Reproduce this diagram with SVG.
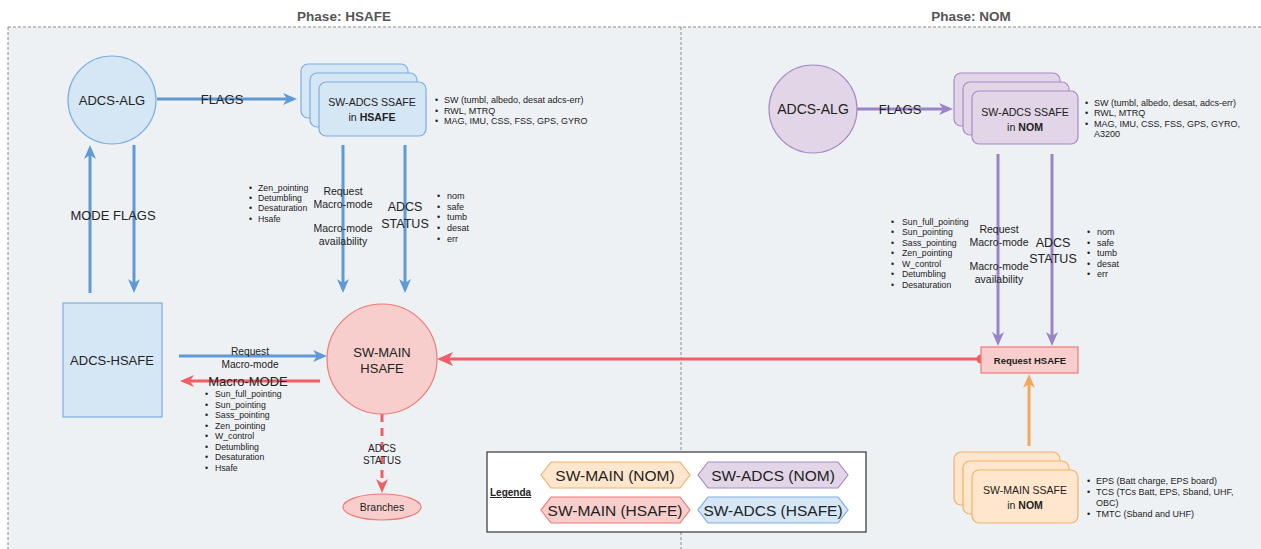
<svg xmlns="http://www.w3.org/2000/svg" width="1261" height="549" viewBox="0 0 1261 549">
<style>
text{font-family:"Liberation Sans",Arial,sans-serif;fill:#222}
.title{font-size:13.5px;font-weight:bold;fill:#555;text-anchor:middle}
.c{text-anchor:middle}
.b9{font-size:9px}
.b85{font-size:8.7px}
.lbl{font-size:10.5px;text-anchor:middle}
.big{font-size:12.5px;text-anchor:middle}
.n13{font-size:13px;text-anchor:middle}
.blueF{fill:#d5e6f5;stroke:#7eaee0;stroke-width:1.2}
.purF{fill:#e1d5e7;stroke:#a58cc6;stroke-width:1.2}
.redF{fill:#f8cecc;stroke:#ee7b78;stroke-width:1.2}
.orgF{fill:#ffe6cc;stroke:#f5b06b;stroke-width:1.2}
.cb{fill:none;stroke:#5f9ad6;stroke-width:3}
.cp{fill:none;stroke:#9a84c8;stroke-width:3}
.cr{fill:none;stroke:#ee5f66;stroke-width:3}
.co{fill:none;stroke:#f5a85a;stroke-width:3}
</style>
<defs>
<marker id="aB" viewBox="0 0 14 12" refX="10" refY="6" markerWidth="14" markerHeight="12" markerUnits="userSpaceOnUse" orient="auto"><path d="M0,0 L14,6 L0,12 L4,6 Z" fill="#5f9ad6"/></marker>
<marker id="aP" viewBox="0 0 14 12" refX="10" refY="6" markerWidth="14" markerHeight="12" markerUnits="userSpaceOnUse" orient="auto"><path d="M0,0 L14,6 L0,12 L4,6 Z" fill="#9a84c8"/></marker>
<marker id="aR" viewBox="0 0 14 12" refX="10" refY="6" markerWidth="14" markerHeight="12" markerUnits="userSpaceOnUse" orient="auto"><path d="M0,0 L14,6 L0,12 L4,6 Z" fill="#ee5f66"/></marker>
<marker id="aRb" viewBox="0 0 16 14" refX="12" refY="7" markerWidth="16" markerHeight="14" markerUnits="userSpaceOnUse" orient="auto"><path d="M0,0 L16,7 L0,14 L4,7 Z" fill="#ee5f66"/></marker>
<marker id="aO" viewBox="0 0 14 12" refX="10" refY="6" markerWidth="14" markerHeight="12" markerUnits="userSpaceOnUse" orient="auto"><path d="M0,0 L14,6 L0,12 L4,6 Z" fill="#f5a85a"/></marker>
<marker id="dotR" viewBox="0 0 10 10" refX="5" refY="5" markerWidth="10" markerHeight="10" markerUnits="userSpaceOnUse"><circle cx="5" cy="5" r="4.5" fill="#ee5f66"/></marker>
</defs>

<rect x="0" y="0" width="1261" height="549" fill="#ffffff"/>
<g id="phases">
<rect x="8" y="27" width="1253" height="522" fill="#eef1f4"/>
<path d="M8,27 H1261 M8,27 V549 M681,27 V549" fill="none" stroke="#8a8a8a" stroke-width="1" stroke-dasharray="3 2"/>
<text class="title" x="344" y="21">Phase: HSAFE</text>
<text class="title" x="971" y="21">Phase: NOM</text>
</g>

<g id="connectors">
<path class="cb" d="M157,99 H293" marker-end="url(#aB)"/>
<path class="cb" d="M343,145 V289" marker-end="url(#aB)"/>
<path class="cb" d="M405,145 V289" marker-end="url(#aB)"/>
<path class="cb" d="M90,293 V149" marker-end="url(#aB)"/>
<path class="cb" d="M134,145 V289" marker-end="url(#aB)"/>
<path class="cb" d="M179,356 H323" marker-end="url(#aB)"/>
<path class="cr" d="M320,381 H184" marker-end="url(#aR)"/>
<path class="cr" d="M981,359 H441" marker-start="url(#dotR)" marker-end="url(#aRb)"/>
<path class="cr" d="M382,414 V489" stroke-dasharray="8 6" marker-end="url(#aR)"/>
<path class="cp" d="M857,109 H949" marker-end="url(#aP)"/>
<path class="cp" d="M998,154 V342" marker-end="url(#aP)"/>
<path class="cp" d="M1052,154 V342" marker-end="url(#aP)"/>
<path class="co" d="M1029,446 V378" marker-end="url(#aO)"/>

<text class="n13" x="222" y="104">FLAGS</text>
<text class="n13" x="113" y="220">MODE FLAGS</text>
<text class="lbl" x="343" y="195">Request</text>
<text class="lbl" x="343" y="208">Macro-mode</text>
<text class="lbl" x="343" y="232">Macro-mode</text>
<text class="lbl" x="343" y="245">availability</text>
<text class="big" x="405" y="211">ADCS</text>
<text class="big" x="405" y="228">STATUS</text>
<g class="b9">
<text x="435" y="103">•</text><text x="444" y="103">SW (tumbl, albedo, desat adcs-err)</text>
<text x="435" y="114">•</text><text x="444" y="114">RWL, MTRQ</text>
<text x="435" y="124">•</text><text x="444" y="124">MAG, IMU, CSS, FSS, GPS, GYRO</text>
<text x="437" y="199">•</text><text x="447" y="199">nom</text>
<text x="437" y="210">•</text><text x="447" y="210">safe</text>
<text x="437" y="220">•</text><text x="447" y="220">tumb</text>
<text x="437" y="231">•</text><text x="447" y="231">desat</text>
<text x="437" y="242">•</text><text x="447" y="242">err</text>
</g>
<g class="b85">
<text x="249" y="191">•</text><text x="258" y="191">Zen_pointing</text>
<text x="249" y="201">•</text><text x="258" y="201">Detumbling</text>
<text x="249" y="211">•</text><text x="258" y="211">Desaturation</text>
<text x="249" y="222">•</text><text x="258" y="222">Hsafe</text>
</g>
<text class="lbl" x="250" y="355" style="font-size:10.2px">Request</text>
<text class="lbl" x="250" y="368" style="font-size:10.2px">Macro-mode</text>
<text class="n13" x="248" y="386">Macro-MODE</text>
<g class="b85">
<text x="205" y="397">•</text><text x="215" y="397">Sun_full_pointing</text>
<text x="205" y="408">•</text><text x="215" y="408">Sun_pointing</text>
<text x="205" y="418">•</text><text x="215" y="418">Sass_pointing</text>
<text x="205" y="429">•</text><text x="215" y="429">Zen_pointing</text>
<text x="205" y="439">•</text><text x="215" y="439">W_control</text>
<text x="205" y="450">•</text><text x="215" y="450">Detumbling</text>
<text x="205" y="460">•</text><text x="215" y="460">Desaturation</text>
<text x="205" y="471">•</text><text x="215" y="471">Hsafe</text>
</g>
<text class="c" x="382" y="452" style="font-size:10px">ADCS</text>
<text class="c" x="382" y="464" style="font-size:10px">STATUS</text>

<text class="n13" x="900" y="114">FLAGS</text>
<text class="lbl" x="999" y="233">Request</text>
<text class="lbl" x="999" y="246">Macro-mode</text>
<text class="lbl" x="999" y="270">Macro-mode</text>
<text class="lbl" x="999" y="283">availability</text>
<text class="big" x="1053" y="247">ADCS</text>
<text class="big" x="1053" y="263">STATUS</text>
<g class="b85">
<text x="891" y="225">•</text><text x="902" y="225">Sun_full_pointing</text>
<text x="891" y="235">•</text><text x="902" y="235">Sun_pointing</text>
<text x="891" y="246">•</text><text x="902" y="246">Sass_pointing</text>
<text x="891" y="256">•</text><text x="902" y="256">Zen_pointing</text>
<text x="891" y="267">•</text><text x="902" y="267">W_control</text>
<text x="891" y="277">•</text><text x="902" y="277">Detumbling</text>
<text x="891" y="288">•</text><text x="902" y="288">Desaturation</text>
</g>
<g class="b9">
<text x="1087" y="235">•</text><text x="1097" y="235">nom</text>
<text x="1087" y="246">•</text><text x="1097" y="246">safe</text>
<text x="1087" y="256">•</text><text x="1097" y="256">tumb</text>
<text x="1087" y="267">•</text><text x="1097" y="267">desat</text>
<text x="1087" y="277">•</text><text x="1097" y="277">err</text>
</g>
</g>

<g id="adcs-alg-hsafe">
<circle class="blueF" cx="112" cy="100" r="44"/>
<text class="n13" x="112" y="105">ADCS-ALG</text>
</g>
<g id="sw-adcs-hsafe">
<rect class="blueF" x="301" y="64" width="107" height="54" rx="7"/>
<rect class="blueF" x="310" y="73" width="107" height="54" rx="7"/>
<rect class="blueF" x="319" y="82" width="107" height="54" rx="7"/>
<text class="c" x="372" y="106" style="font-size:10.6px">SW-ADCS SSAFE</text>
<text class="c" x="372" y="121" style="font-size:10.6px">in <tspan font-weight="bold">HSAFE</tspan></text>
</g>
<g id="adcs-hsafe">
<rect class="blueF" x="63" y="303" width="99" height="114"/>
<text class="n13" x="112" y="365">ADCS-HSAFE</text>
</g>
<g id="sw-main-hsafe">
<circle class="redF" cx="382" cy="359" r="55"/>
<text class="n13" x="382" y="357">SW-MAIN</text>
<text class="n13" x="382" y="373">HSAFE</text>
</g>
<g id="branches">
<ellipse class="redF" cx="382" cy="507" rx="39" ry="13"/>
<text class="c" x="382" y="511" style="font-size:10.5px">Branches</text>
</g>

<g id="adcs-alg-nom">
<circle class="purF" cx="813" cy="109" r="44"/>
<text class="c" x="813" y="114" style="font-size:14px">ADCS-ALG</text>
</g>
<g id="sw-adcs-nom">
<rect class="purF" x="954" y="73" width="106" height="53" rx="7"/>
<rect class="purF" x="963" y="82" width="106" height="53" rx="7"/>
<rect class="purF" x="972" y="91" width="106" height="53" rx="7"/>
<text class="c" x="1025" y="116" style="font-size:10.6px">SW-ADCS SSAFE</text>
<text class="c" x="1025" y="131" style="font-size:10.6px">in <tspan font-weight="bold">NOM</tspan></text>
<g class="b9">
<text x="1085" y="106">•</text><text x="1094" y="106">SW (tumbl, albedo, desat, adcs-err)</text>
<text x="1085" y="116">•</text><text x="1094" y="116">RWL, MTRQ</text>
<text x="1085" y="127">•</text><text x="1094" y="127">MAG, IMU, CSS, FSS, GPS, GYRO,</text>
<text x="1094" y="137">A3200</text>
</g>
</g>
<g id="request-hsafe">
<rect class="redF" x="981" y="347" width="97" height="26"/>
<text class="c" x="1030" y="364" style="font-size:9.5px;font-weight:bold">Request HSAFE</text>
</g>
<g id="sw-main-nom">
<rect class="orgF" x="954" y="452" width="106" height="53" rx="7"/>
<rect class="orgF" x="963" y="461" width="106" height="53" rx="7"/>
<rect class="orgF" x="972" y="470" width="106" height="53" rx="7"/>
<text class="c" x="1025" y="494" style="font-size:10.5px">SW-MAIN SSAFE</text>
<text class="c" x="1025" y="509" style="font-size:10.5px">in <tspan font-weight="bold">NOM</tspan></text>
<g class="b9">
<text x="1087" y="484">•</text><text x="1096" y="484">EPS (Batt charge, EPS board)</text>
<text x="1087" y="495">•</text><text x="1096" y="495">TCS (TCs Batt, EPS, Sband, UHF,</text>
<text x="1096" y="506">OBC)</text>
<text x="1087" y="517">•</text><text x="1096" y="517">TMTC (Sband and UHF)</text>
</g>
</g>

<g id="legend">
<rect x="487" y="452" width="379" height="80" fill="#ffffff" stroke="#333" stroke-width="1.2"/>
<text x="490" y="496" style="font-size:10px;font-weight:bold;text-decoration:underline">Legenda</text>
<polygon class="orgF" points="551,462 680,462 690,475 680,488 551,488 541,475"/>
<text class="c" x="615" y="481" style="font-size:15.5px">SW-MAIN (NOM)</text>
<polygon class="purF" points="708,462 838,462 848,475 838,488 708,488 698,475"/>
<text class="c" x="773" y="481" style="font-size:15.5px">SW-ADCS (NOM)</text>
<polygon class="redF" points="551,497 680,497 690,510 680,523 551,523 541,510"/>
<text class="c" x="615" y="516" style="font-size:15.5px">SW-MAIN (HSAFE)</text>
<polygon class="blueF" points="708,497 838,497 848,510 838,523 708,523 698,510"/>
<text class="c" x="773" y="516" style="font-size:15.5px">SW-ADCS (HSAFE)</text>
</g>
</svg>
